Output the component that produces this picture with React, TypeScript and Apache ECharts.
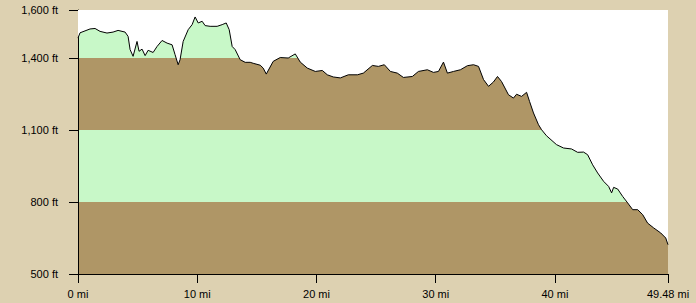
import React, { useEffect, useRef } from "react";
import * as echarts from "echarts";

const miles = [
  0, 0.17, 1.01, 1.43, 1.85, 2.43, 2.94, 3.36, 3.95, 4.2, 4.37, 4.62, 4.95, 5.12, 5.37, 5.63, 5.88,
  6.3, 6.63, 7.05, 7.47, 7.89, 8.14, 8.4, 8.56, 8.82, 9.24, 9.57, 9.82, 10.08, 10.41, 10.66, 11.08,
  11.67, 12.09, 12.43, 12.68, 12.93, 13.18, 13.6, 14.02, 14.44, 14.69, 15.28, 15.53, 15.79, 16.37,
  16.96, 17.63, 18.22, 18.64, 19.23, 19.9, 20.49, 20.91, 21.41, 22.0, 22.67, 23.43, 23.93, 24.69,
  25.19, 25.69, 26.2, 26.78, 27.29, 28.04, 28.55, 29.3, 29.81, 30.23, 30.65, 30.98, 31.49, 32.07,
  32.66, 33.17, 33.59, 34.01, 34.43, 34.84, 35.18, 35.52, 36.1, 36.52, 36.78, 37.2, 37.62, 37.87,
  38.2, 38.62, 38.88, 39.29, 40.13, 40.72, 41.39, 41.9, 42.4, 42.74, 43.16, 43.58, 44.08, 44.5,
  44.75, 44.92, 45.26, 45.68, 46.1, 46.52, 46.94, 47.36, 47.77, 48.28, 48.87, 49.29, 49.48,
];

const elevationFt = [
  1483, 1505, 1521, 1523, 1511, 1504, 1508, 1515, 1508, 1490, 1435, 1407, 1469, 1428, 1437, 1410, 1432,
  1423, 1448, 1473, 1462, 1455, 1414, 1372, 1393, 1469, 1518, 1539, 1571, 1546, 1553, 1535, 1532,
  1532, 1539, 1546, 1518, 1448, 1435, 1393, 1382, 1382, 1378, 1370, 1358, 1333, 1386,
  1402, 1400, 1417, 1383, 1358, 1344, 1348, 1330, 1321, 1317, 1330, 1330, 1337, 1369,
  1365, 1372, 1344, 1337, 1319, 1323, 1344, 1351, 1340, 1344, 1383, 1337, 1344, 1351,
  1368, 1372, 1365, 1310, 1282, 1300, 1323, 1302, 1247, 1233, 1249, 1240, 1257, 1219,
  1171, 1122, 1101, 1076, 1039, 1025, 1021, 1007, 1008, 997, 955, 921, 886, 865,
  838, 861, 854, 823, 796, 768, 768, 747, 712, 692, 671, 650, 622,
];

const yMin = 500;
const yMax = 1600;
const yStep = 300;
const xMin = 0;
const xMax = 49.48;
const xStep = 10;

const BG = "#DDD1B1";
const BROWN = "#AF9666";
const GREEN = "#C8F8C8";

export default function App() {
  const ref = useRef<HTMLDivElement>(null);

  useEffect(() => {
    if (!ref.current) return;
    const chart = echarts.init(ref.current, null, { renderer: "svg" });
    const profile = miles.map((m, i) => [m, elevationFt[i]]);
    const font = { fontFamily: "Liberation Sans, Arial, sans-serif", fontSize: 11, color: "#000" };

    chart.setOption({
      animation: false,
      backgroundColor: BG,
      grid: { left: 78, top: 10, width: 590, height: 264, containLabel: false },
      xAxis: {
        type: "value",
        min: xMin,
        max: xMax,
        interval: xStep,
        axisLine: { show: true, lineStyle: { color: "#000", width: 1 } },
        axisTick: { show: true, length: 9, lineStyle: { color: "#000" } },
        axisLabel: {
          ...font,
          margin: 14,
          showMaxLabel: true,
          showMinLabel: true,
          formatter: (v: number) => `${Math.abs(v - xMax) < 1e-6 ? "49.48" : v} mi`,
        },
        splitLine: { show: false },
      },
      yAxis: {
        type: "value",
        min: yMin,
        max: yMax,
        interval: yStep,
        axisLine: { show: true, lineStyle: { color: "#000", width: 1 } },
        axisTick: { show: true, length: 9, lineStyle: { color: "#000" } },
        axisLabel: {
          ...font,
          margin: 20,
          showMaxLabel: true,
          showMinLabel: true,
          formatter: (v: number) => `${v.toLocaleString("en-US")} ft`,
        },
        splitLine: { show: false },
        splitArea: { show: true, areaStyle: { color: [BROWN, GREEN] } },
      },
      series: [
        {
          type: "line",
          data: profile,
          symbol: "none",
          z: 5,
          lineStyle: { color: "#000", width: 1 },
          areaStyle: { color: "#FFFFFF", opacity: 1, origin: "end" },
        },
      ],
    });
    return () => chart.dispose();
  }, []);

  return (
    <div
      ref={ref}
      style={{ position: "absolute", left: 0, top: 0, width: 696, height: 303 }}
    />
  );
}
